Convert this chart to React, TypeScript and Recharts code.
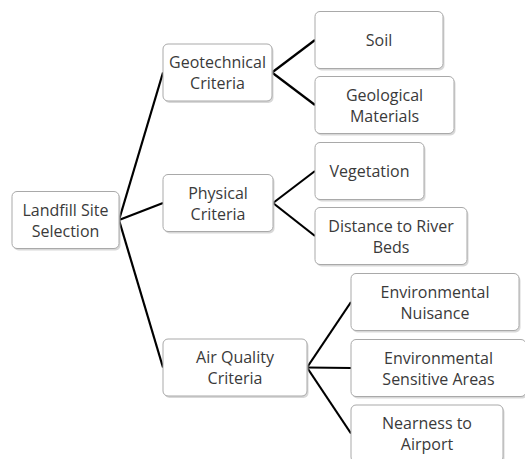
import React from "react";
import { ComposedChart, XAxis, YAxis, Scatter, ReferenceLine } from "recharts";

// ---- Data: tree content ----
const nodeIds = ["root", "geo", "phys", "air", "soil", "geol", "veg", "dist", "envN", "envS", "near"];
const nodeLabels = [
  ["Landfill Site", "Selection"],
  ["Geotechnical", "Criteria"],
  ["Physical", "Criteria"],
  ["Air Quality", "Criteria"],
  ["Soil"],
  ["Geological", "Materials"],
  ["Vegetation"],
  ["Distance to River", "Beds"],
  ["Environmental", "Nuisance"],
  ["Environmental", "Sensitive Areas"],
  ["Nearness to", "Airport"],
];
const nodeParents = [null, "root", "root", "root", "geo", "geo", "phys", "phys", "air", "air", "air"];

// ---- Layout (diagram coordinates) ----
const layoutLeft = [12, 163, 163, 163, 315, 315, 315, 315, 351, 351, 351];
const layoutRight = [119, 272, 273, 307, 443, 454, 424, 467, 519, 526, 503];
const layoutCenterY = [220, 72.5, 203, 367.5, 40, 105, 171, 236, 302, 368, 433.5];
const BOX_H = 57;
const W = 525;
const H = 459;

const nodes = nodeIds.map((id, i) => ({
  id,
  lines: nodeLabels[i],
  left: layoutLeft[i],
  right: layoutRight[i],
  x: (layoutLeft[i] + layoutRight[i]) / 2,
  y: layoutCenterY[i],
  w: layoutRight[i] - layoutLeft[i],
}));

const edges = nodes
  .map((n, i) => {
    const p = nodeParents[i];
    if (!p) return null;
    const parent = nodes.find((m) => m.id === p)!;
    return { from: { x: parent.right, y: parent.y }, to: { x: n.left, y: n.y }, key: p + "-" + n.id };
  })
  .filter(Boolean) as { from: { x: number; y: number }; to: { x: number; y: number }; key: string }[];

const FONT = "'Open Sans', 'Noto Sans', sans-serif";

const NodeShape = (props: any) => {
  const { cx, cy, payload } = props;
  if (cx == null || cy == null) return null;
  const w = payload.w;
  const h = BOX_H;
  const x = cx - w / 2;
  const y = cy - h / 2;
  const lines: string[] = payload.lines;
  const lh = 21;
  const startY = cy - ((lines.length - 1) * lh) / 2;
  return (
    <g>
      <rect x={x + 1.5} y={y + 2} width={w} height={h} rx={5} ry={5} fill="#c8c8c8" opacity={0.7} />
      <rect x={x} y={y} width={w} height={h} rx={5} ry={5} fill="#ffffff" stroke="#a9a9a9" strokeWidth={1} />
      {lines.map((t, i) => (
        <text
          key={i}
          x={cx}
          y={startY + i * lh}
          textAnchor="middle"
          dominantBaseline="central"
          fontFamily={FONT}
          fontSize={16}
          fill="#3a3a3a"
        >
          {t}
        </text>
      ))}
    </g>
  );
};

export default function App() {
  return (
    <div style={{ position: "absolute", left: 0, top: 0, background: "#fff" }}>
      <ComposedChart width={W} height={H} margin={{ top: 0, right: 0, bottom: 0, left: 0 }} data={nodes}>
        <XAxis type="number" dataKey="x" domain={[0, W]} hide allowDataOverflow />
        <YAxis type="number" dataKey="y" domain={[0, H]} reversed hide allowDataOverflow />
        {edges.map((e) => (
          <ReferenceLine
            key={e.key}
            segment={[e.from, e.to]}
            stroke="#000"
            strokeWidth={2.2}
            ifOverflow="visible"
          />
        ))}
        <Scatter data={nodes} dataKey="y" shape={<NodeShape />} isAnimationActive={false} />
      </ComposedChart>
    </div>
  );
}
